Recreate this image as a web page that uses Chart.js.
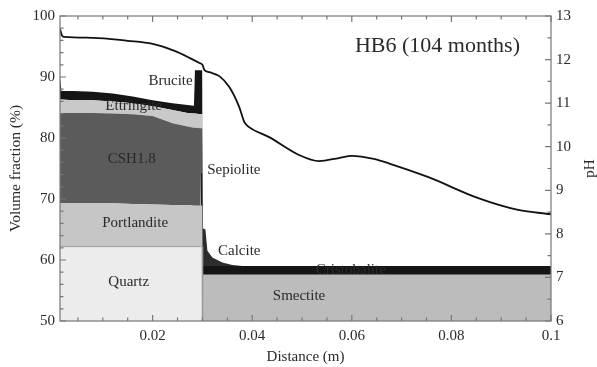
<!DOCTYPE html>
<html><head><meta charset="utf-8">
<script src="https://cdn.jsdelivr.net/npm/chart.js@4.4.1/dist/chart.umd.min.js"></script>
<style>html,body{margin:0;padding:0;background:#fff}#wrap{width:597px;height:367px}</style>
</head><body><div id="wrap"><canvas id="c" width="597" height="367"></canvas></div>
<script>
// ---- data (volume fraction thickness of each mineral, %, stacked bottom to top) ----
const distance = [0.0014,0.0017,0.004,0.008,0.012,0.016,0.020,0.024,0.027,0.0283,0.0285,0.0296,0.0297,0.02995,
                  0.03005,0.0306,0.031,0.032,0.034,0.036,0.038,0.05,0.07,0.1];
const quartz      = [62.2,62.2,62.2,62.2,62.2,62.2,62.2,62.2,62.2,62.2,62.2,62.2,62.2,62.2, 0,0,0,0,0,0,0,0,0,0];
const smectite    = [0,0,0,0,0,0,0,0,0,0,0,0,0,0, 57.6,57.6,57.6,57.6,57.6,57.6,57.6,57.6,57.6,57.6];
const portlandite = [7.1,7.1,7.1,7.1,7.1,7.0,6.9,6.8,6.8,6.7,6.7,6.7,6.7,6.7, 0,0,0,0,0,0,0,0,0,0];
const cristobalite= [0,0,0,0,0,0,0,0,0,0,0,0,0,0, 1.4,1.4,1.4,1.4,1.4,1.4,1.4,1.4,1.4,1.4];
const sepiolite   = [0,0,0,0,0,0,0,0,0,0,0,0,5.4,5.4, 0,0,0,0,0,0,0,0,0,0];
const csh18       = [14.8,14.8,14.8,14.8,14.7,14.7,14.5,13.4,12.9,12.8,12.8,12.7,7.3,7.3, 0,0,0,0,0,0,0,0,0,0];
const calcite     = [0,0,0,0,0,0,0,0,0,0,0,0,0,0, 6.2,6.0,2.5,1.4,0.6,0.2,0,0,0,0];
const ettringite  = [2.2,2.2,2.1,2.1,2.0,1.8,1.6,2.2,2.2,2.3,2.3,2.3,2.3,2.3, 0,0,0,0,0,0,0,0,0,0];
const brucite     = [3.7,1.4,1.5,1.4,1.3,1.1,1.0,1.1,1.3,1.3,7.1,7.2,7.2,7.2, 0,0,0,0,0,0,0,0,0,0];

const phDistance = [0.0014,0.0018,0.0022,0.008,0.015,0.020,0.0244,0.0274,0.0294,0.0300,0.0304,0.0314,0.0334,0.0354,
                    0.0374,0.0384,0.0394,0.0434,0.0494,0.0534,0.0574,0.060,0.0644,0.0674,0.0754,0.0854,0.0934,0.1];
const phValues   = [12.70,12.55,12.52,12.50,12.43,12.36,12.20,12.04,11.92,11.88,11.76,11.71,11.62,11.37,
                    10.91,10.57,10.45,10.22,9.81,9.67,9.74,9.79,9.72,9.62,9.30,8.82,8.55,8.45];

const xTicks = [0.02,0.04,0.06,0.08,0.1];
const volumeTicks = [50,60,70,80,90,100];
const phTicks = [6,7,8,9,10,11,12,13];

// in-plot labels (data coordinates)
const labelTexts = ['Brucite','Ettringite','CSH1.8','Portlandite','Quartz','Sepiolite','Calcite','Cristobalite','Smectite'];
const labelX     = [0.0236,0.0162,0.0158,0.0165,0.0152,0.0363,0.0374,0.0598,0.0494];
const labelY     = [89.3,85.25,76.6,66.1,56.4,74.75,61.5,58.4,54.1];
const titleText = 'HB6 (104 months)';

// ---- build ----
const SERIF = '"Liberation Serif","Times New Roman",serif';
const TXT = '#2a2a2a';
const pts = arr => arr.map((v,i)=>({x:distance[i], y:v}));
const layers = [
  ['Quartz', quartz, '#ececec', '#9a9a9a', 1],
  ['Smectite', smectite, '#bcbcbc', '#bcbcbc', 0],
  ['Portlandite', portlandite, '#c6c6c6', '#c6c6c6', 0],
  ['Cristobalite', cristobalite, '#151515', '#151515', 0],
  ['Sepiolite', sepiolite, '#1c1c1c', '#1c1c1c', 0],
  ['CSH1.8', csh18, '#5b5b5b', '#5b5b5b', 0],
  ['Calcite', calcite, '#2c2c2c', '#2c2c2c', 0],
  ['Ettringite', ettringite, '#c9c9c9', '#c9c9c9', 0],
  ['Brucite', brucite, '#151515', '#151515', 0]
];
const datasets = layers.map((l,i)=>({
  label:l[0], data:pts(l[1]), backgroundColor:l[2], borderColor:l[3], borderWidth:l[4],
  fill: i===0 ? 'origin' : '-1', pointRadius:0, tension:0, yAxisID:'y', order:1
}));
datasets.push({
  label:'pH', data:phDistance.map((d,i)=>({x:d,y:phValues[i]})), yAxisID:'y1',
  borderColor:'#111', borderWidth:1.8, pointRadius:0, fill:false,
  cubicInterpolationMode:'monotone', order:0
});

const decor = {
  id:'decor',
  afterDatasetsDraw(chart){
    const {ctx, chartArea:a, scales} = chart;
    const x = scales.x, y = scales.y, y1 = scales.y1;
    ctx.save();
    ctx.strokeStyle = '#777'; ctx.lineWidth = 1.2;
    ctx.strokeRect(a.left, a.top, a.right-a.left, a.bottom-a.top);
    ctx.beginPath();
    for (let k=1;k<=20;k++){
      const v = k*0.005; if (v < x.min) continue;
      const px = x.getPixelForValue(v); const L = (k%4===0)?6:3.5;
      ctx.moveTo(px, a.bottom); ctx.lineTo(px, a.bottom-L);
      ctx.moveTo(px, a.top); ctx.lineTo(px, a.top+L);
    }
    for (let v=50; v<=100; v+=2){
      const py = y.getPixelForValue(v); const L = (v%10===0)?6:3.5;
      ctx.moveTo(a.left, py); ctx.lineTo(a.left+L, py);
    }
    for (let v=6; v<=13; v+=0.5){
      const py = y1.getPixelForValue(v); const L = (Number.isInteger(v))?6:3.5;
      ctx.moveTo(a.right, py); ctx.lineTo(a.right-L, py);
    }
    ctx.stroke();
    // in-plot labels
    ctx.fillStyle = TXT; ctx.textAlign='center'; ctx.textBaseline='middle';
    ctx.font = '15px '+SERIF;
    labelTexts.forEach((t,i)=>ctx.fillText(t, x.getPixelForValue(labelX[i]), y.getPixelForValue(labelY[i])));
    ctx.font = '22px '+SERIF;
    ctx.fillText(titleText, x.getPixelForValue(0.0772), y.getPixelForValue(95.1));
    // right axis title, reading bottom-to-top
    ctx.font = '15px '+SERIF;
    ctx.translate(590, (a.top+a.bottom)/2);
    ctx.rotate(-Math.PI/2);
    ctx.fillText('pH', 0, 0);
    ctx.restore();
  }
};

new Chart(document.getElementById('c'), {
  type:'line',
  data:{datasets},
  plugins:[decor],
  options:{
    responsive:false, animation:false,
    layout:{padding:{top:16,left:0,right:0,bottom:0}},
    plugins:{legend:{display:false}, tooltip:{enabled:false}},
    scales:{
      x:{type:'linear', min:0.0014, max:0.1,
         grid:{display:false, drawTicks:false}, border:{display:false},
         afterBuildTicks:s=>{s.ticks = xTicks.map(v=>({value:v}));},
         afterFit:s=>{s.height=46;},
         ticks:{font:{family:SERIF,size:15}, color:TXT, padding:6, maxRotation:0,
                callback:v=>String(+v.toFixed(2))},
         title:{display:true, text:'Distance (m)', font:{family:SERIF,size:15}, color:TXT, padding:{top:0,bottom:1}}
      },
      y:{type:'linear', position:'left', stacked:true, min:50, max:100,
         grid:{display:false, drawTicks:false}, border:{display:false},
         afterBuildTicks:s=>{s.ticks = volumeTicks.map(v=>({value:v}));},
         afterFit:s=>{s.width=60;},
         ticks:{font:{family:SERIF,size:15}, color:TXT, padding:5},
         title:{display:true, text:'Volume fraction (%)', font:{family:SERIF,size:15.5}, color:TXT, padding:{top:7,bottom:0}}
      },
      y1:{type:'linear', position:'right', stacked:false, min:6, max:13,
         grid:{display:false, drawTicks:false}, border:{display:false},
         afterBuildTicks:s=>{s.ticks = phTicks.map(v=>({value:v}));},
         afterFit:s=>{s.width=46;},
         ticks:{font:{family:SERIF,size:15}, color:TXT, padding:5}
      }
    }
  }
});
</script></body></html>
